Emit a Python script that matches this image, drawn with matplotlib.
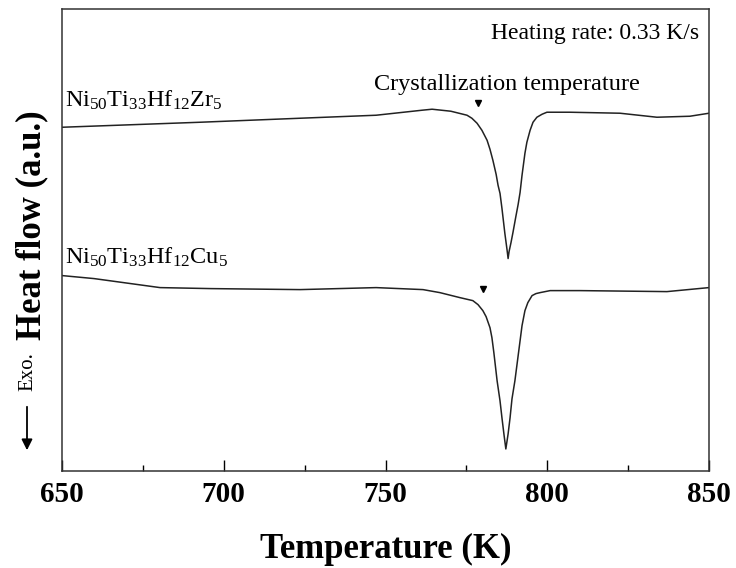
import matplotlib
matplotlib.use("Agg")
import matplotlib.pyplot as plt
from matplotlib.ticker import MultipleLocator

plt.rcParams['font.family'] = ['Liberation Serif', 'DejaVu Serif']
plt.rcParams['mathtext.fontset'] = 'custom'
plt.rcParams['mathtext.rm'] = 'Liberation Serif'
plt.rcParams['mathtext.it'] = 'Liberation Serif:italic'
plt.rcParams['mathtext.bf'] = 'Liberation Serif:bold'

# Temperature (K) and heat flow (a.u.)
temp_zr = [650, 692.7, 723.6, 747.1, 761.3, 764.4, 770.2, 775.2, 776.7, 778.3,
           779.8, 781.4, 782.3, 783.2, 784.2, 784.8, 785.4, 786.0, 786.9, 787.6,
           787.9, 788.2, 788.8, 789.4, 790.3, 791.0, 791.6, 792.2, 793.1, 793.7,
           794.7, 795.6, 796.8, 798.4, 799.9, 807.0, 822.5, 833.9, 844.1, 850]
flow_zr = [343, 348, 352, 355, 360, 361, 359, 355, 352, 347,
           340, 330, 321, 310, 296, 285, 277, 262, 237, 220,
           212, 219, 228, 238, 254, 266, 278, 295, 317, 328,
           340, 348, 353, 356, 358, 358, 357, 353, 354, 357]

temp_cu = [650, 659.9, 680.3, 696.1, 723.6, 747.1, 761.6, 766.8, 773.0, 777.0,
           778.6, 780.1, 781.1, 782.3, 782.9, 783.5, 784.5, 785.4, 786.0, 786.6,
           787.2, 787.9, 788.5, 789.1, 790.0, 791.0, 791.6, 792.2, 793.1, 794.0,
           795.3, 796.5, 797.8, 800.9, 810.1, 837.0, 850]
flow_cu = [195, 192, 183, 182, 181, 183, 181, 178, 173, 170,
           166, 160, 154, 143, 133, 118, 90, 70, 53, 37,
           22, 37, 53, 72, 90, 115, 130, 145, 160, 168,
           175, 177, 178, 180, 180, 179, 183]

marker_temp = [778.6, 780.1]
marker_flow = [367, 182]

xticks = [650, 700, 750, 800, 850]
labels = [r'Ni$_{50}$Ti$_{33}$Hf$_{12}$Zr$_{5}$', r'Ni$_{50}$Ti$_{33}$Hf$_{12}$Cu$_{5}$']

fig = plt.figure(figsize=(7.36, 5.68), dpi=100)
ax = fig.add_axes([62/736, 1 - 471/568, (709-62)/736, (471-9)/568])

ax.plot(temp_zr, flow_zr, color='#222222', lw=1.1)
ax.plot(temp_cu, flow_cu, color='#222222', lw=1.1)
ax.plot(marker_temp, marker_flow, linestyle='none', marker='v', color='black', markersize=5)

ax.set_xlim(650, 850)
ax.set_ylim(0, 461)
ax.set_xticks(xticks)
ax.xaxis.set_minor_locator(MultipleLocator(25))
ax.set_yticks([])
ax.tick_params(axis='x', which='major', direction='in', length=8, width=1, pad=7,
               labelsize=21)
ax.tick_params(axis='x', which='minor', direction='in', length=4, width=1)
for lab in ax.get_xticklabels():
    lab.set_fontweight('bold')
for s in ax.spines.values():
    s.set_linewidth(1.1)
    s.set_color('#333333')

ax.set_xlabel('Temperature (K)', fontsize=25, fontweight='bold', labelpad=18)

ax.text(0.985, 0.97, 'Heating rate: 0.33 K/s', transform=ax.transAxes,
        ha='right', va='top', fontsize=17)
ax.text(787.6, 386, 'Crystallization temperature', ha='center', va='center', fontsize=17.5)
ax.text(651, 370, labels[0], ha='left', va='center', fontsize=17.5)
ax.text(651, 213, labels[1], ha='left', va='center', fontsize=17.5)

fig.text(32/736, 1 - 225/568, 'Heat flow (a.u.)', rotation=90, ha='center', va='center',
         fontsize=25, fontweight='bold')
fig.text(28/736, 1 - 372/568, 'Exo.', rotation=90, ha='center', va='center', fontsize=15)
fig.patches.append(matplotlib.patches.FancyArrowPatch(
    (27/736, 1 - 404/568), (27/736, 1 - 453/568), transform=fig.transFigure,
    arrowstyle='-|>', mutation_scale=16, color='black', lw=1.3))

fig.savefig('out.png', dpi=100)
